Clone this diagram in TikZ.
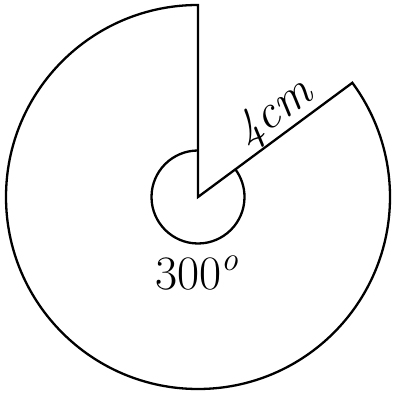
\documentclass[tikz,border=0pt]{standalone}
\newcommand{\lblsize}{\fontsize{24}{28}\selectfont}

\begin{document}
\begin{tikzpicture}[
  x=0.5pt, y=0.5pt,
  edge/.style={draw, line width=1.15pt, line join=miter},
  lbl/.style={font=\lblsize, inner sep=1pt},
]
  \useasboundingbox (-198,-197) rectangle (194,197);
  % ---------------- sector of 300 degrees
  \coordinate (O) at (0,0);
  \coordinate (top) at (90:192);
  \coordinate (tip) at (36.5:192);
  \path[edge] (O) -- (top) arc[start angle=90, end angle=396.5, radius=192] -- cycle;
  % ---------------- angle mark
  \path[edge] (90:46.5) arc[start angle=90, end angle=396.5, radius=46.5];
  \node[lbl] (ang) at (-1,-76) {300\textsuperscript{\textit{o}}};
  % ---------------- radius label
  \node[lbl, rotate=36.5] (rad) at (77,84) {\textit{4cm}};
\end{tikzpicture}
\end{document}
